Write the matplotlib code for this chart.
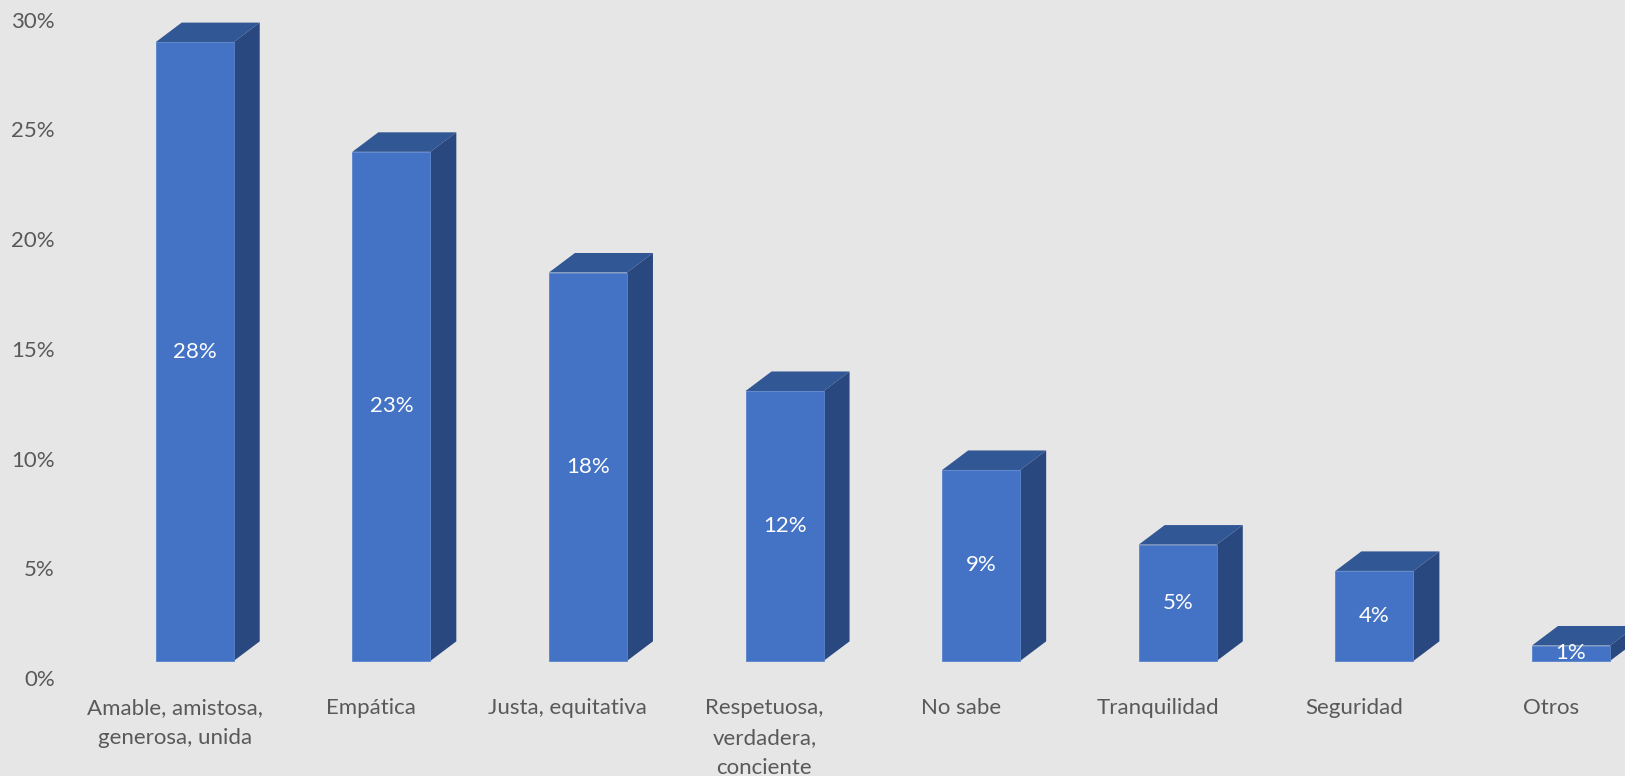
import matplotlib.pyplot as plt
from matplotlib.patches import Polygon

# Data
categories = ["Amable, amistosa,\ngenerosa, unida", "Empática", "Justa, equitativa",
              "Respetuosa,\nverdadera,\nconciente", "No sabe", "Tranquilidad", "Seguridad", "Otros"]
values = [28.2, 23.2, 17.7, 12.3, 8.7, 5.3, 4.1, 0.7]
yticks = [0, 5, 10, 15, 20, 25, 30]

plt.rcParams['font.family'] = ['Lato', 'DejaVu Sans']

bg = "#E7E6E6"
front_c = "#4472C4"
top_c = "#325795"
side_c = "#2A4880"
text_c = "#595959"

# 3D look parameters (in data units)
floor = 0.78     # perspective shift of the bar base above the 0% label
width = 0.397
shift = -0.096   # front face left edge relative to category position
dx, dy = 0.132, 0.89

fig = plt.figure(figsize=(16.25, 7.76), dpi=100, facecolor=bg)
ax = fig.add_axes([70 / 1625, (776 - 690) / 776, 1 - 70 / 1625, 690 / 776])
ax.set_facecolor(bg)

for i, v in enumerate(values):
    x0 = i + shift
    top = floor + v
    front = Polygon([(x0, floor), (x0 + width, floor), (x0 + width, top), (x0, top)],
                    closed=True, facecolor=front_c, edgecolor="#5A84CC", linewidth=0.6)
    lid = Polygon([(x0, top), (x0 + width, top), (x0 + width + dx, top + dy), (x0 + dx, top + dy)],
                  closed=True, facecolor=top_c, edgecolor="none")
    side = Polygon([(x0 + width, floor), (x0 + width + dx, floor + dy),
                    (x0 + width + dx, top + dy), (x0 + width, top)],
                   closed=True, facecolor=side_c, edgecolor="none")
    for p in (lid, side, front):
        ax.add_patch(p)
    ax.text(x0 + width / 2, floor + v / 2, f"{round(v)}%", ha="center", va="center",
            color="white", fontsize=16)

ax.set_xlim(-0.532, 7.377)
ax.set_ylim(-0.547, 30.9)
ax.set_yticks(yticks)
ax.set_yticklabels([f"{t}%" for t in yticks])
ax.set_xticks(range(len(categories)))
ax.set_xticklabels(categories, linespacing=1.6)
ax.tick_params(axis="both", length=0, colors=text_c, labelsize=16)
ax.tick_params(axis="y", pad=11)
ax.tick_params(axis="x", pad=6)
for s in ax.spines.values():
    s.set_visible(False)

plt.savefig("out.png", dpi=100, facecolor=bg)
